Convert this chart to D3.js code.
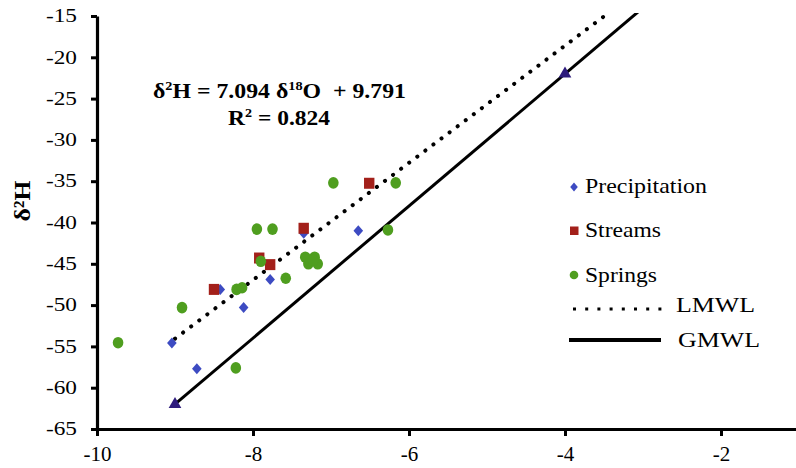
<!DOCTYPE html>
<html>
<head>
<meta charset="utf-8">
<script src="https://cdn.jsdelivr.net/npm/d3@7/dist/d3.min.js"></script>
<style>
  html, body { margin: 0; padding: 0; background: #fff; }
  svg { display: block; font-family: "Liberation Serif", "Times New Roman", serif; }
</style>
</head>
<body>
<svg id="chart" width="796" height="468"></svg>
<script>
// Isotope samples: δ18O (x) and δ2H (y), per-mil
const precipO = [-9.04, -8.72, -8.12, -7.78, -6.65, -8.42, -7.35];
const precipH = [-54.6, -57.7, -50.3, -46.9, -41.0, -48.1, -41.3];

const streamsO = [-8.50, -7.92, -7.78, -7.35, -6.51];
const streamsH = [-48.1, -44.3, -45.1, -40.7, -35.25];

const springsO = [-9.73, -8.91, -8.22, -8.21, -8.14, -7.95, -7.75, -7.90, -7.58, -6.97,
                  -7.33, -7.21, -7.29, -7.17, -7.23, -6.17, -6.27];
const springsH = [-54.55, -50.3, -57.6, -48.1, -47.9, -40.8, -40.8, -44.7, -46.75, -35.2,
                  -44.2, -44.2, -45.0, -45.0, -44.6, -35.2, -40.9];

// Meteoric water lines: δ2H = slope * δ18O + intercept
const lmwl = { slope: 7.094, intercept: 9.791, from: -9, to: -3.4 };
const gmwl = { slope: 8, intercept: 10, from: -9, to: -3 };
const gmwlMarkersO = [-9, -4];

const xTicks = [-10, -8, -6, -4, -2];
const xTickLabels = ["-10", "-8", "-6", "-4", "-2"];
const yTicks = [-15, -20, -25, -30, -35, -40, -45, -50, -55, -60, -65];
const yTickLabels = ["-15", "-20", "-25", "-30", "-35", "-40", "-45", "-50", "-55", "-60", "-65"];

const legendItems = ["Precipitation", "Streams", "Springs", "LMWL", "GMWL"];

const colors = { precip: "#3d4bc2", streams: "#a3201a", springs: "#4f9e1f", tri: "#2d1b7c" };

const svg = d3.select("#chart");
svg.append("rect").attr("width", 796).attr("height", 468).attr("fill", "#fff");

const x = d3.scaleLinear().domain([-10, 0]).range([97, 877]);
const y = d3.scaleLinear().domain([-65, -15]).range([429, 16]);

// Clip for the fitted lines
svg.append("clipPath").attr("id", "plotClip")
  .append("rect").attr("x", 97).attr("y", 13).attr("width", 700).attr("height", 416);

const plot = svg.append("g");

// Lines
const lineGen = d3.line().x(d => x(d[0])).y(d => y(d[1]));
const linePts = l => [[l.from, l.slope * l.from + l.intercept], [l.to, l.slope * l.to + l.intercept]];

plot.append("path")
  .attr("clip-path", "url(#plotClip)")
  .attr("d", lineGen(linePts(lmwl)))
  .attr("fill", "none").attr("stroke", "#000")
  .attr("stroke-width", 4).attr("stroke-linecap", "round")
  .attr("stroke-dasharray", "0.1 10");

plot.append("path")
  .attr("clip-path", "url(#plotClip)")
  .attr("d", lineGen(linePts(gmwl)))
  .attr("fill", "none").attr("stroke", "#000")
  .attr("stroke-width", 3);

// GMWL markers
plot.selectAll(".tri").data(gmwlMarkersO).join("path")
  .attr("d", d3.symbol(d3.symbolTriangle, 70))
  .attr("transform", d => `translate(${x(d)},${y(gmwl.slope * d + gmwl.intercept)})`)
  .attr("fill", colors.tri);

// Precipitation (diamonds)
const diamond = "M0,-5.5L4.8,0L0,5.5L-4.8,0Z";
plot.selectAll(".prec").data(d3.zip(precipO, precipH)).join("path")
  .attr("d", diamond)
  .attr("transform", d => `translate(${x(d[0])},${y(d[1])})`)
  .attr("fill", colors.precip);

// Streams (squares)
plot.selectAll(".strm").data(d3.zip(streamsO, streamsH)).join("rect")
  .attr("x", d => x(d[0]) - 5.2).attr("y", d => y(d[1]) - 5.5)
  .attr("width", 10.4).attr("height", 11)
  .attr("fill", colors.streams);

// Springs (dots)
plot.selectAll(".sprg").data(d3.zip(springsO, springsH)).join("ellipse")
  .attr("cx", d => x(d[0])).attr("cy", d => y(d[1]))
  .attr("rx", 5.3).attr("ry", 5.8)
  .attr("fill", colors.springs);

// Axes
const yAxis = d3.axisLeft(y).tickValues(yTicks)
  .tickFormat((d, i) => yTickLabels[i]).tickSize(6).tickSizeOuter(0).tickPadding(14);
const yg = svg.append("g").attr("transform", "translate(97,0)").call(yAxis);
yg.select(".domain").attr("stroke-width", 3.2);
yg.selectAll(".tick line").attr("stroke-width", 3);
yg.selectAll(".tick text")
  .attr("font-family", "Liberation Serif").attr("font-size", 18).attr("fill", "#000")
  .attr("textLength", 31).attr("lengthAdjust", "spacingAndGlyphs");

const xAxis = d3.axisBottom(x).tickValues(xTicks)
  .tickFormat((d, i) => xTickLabels[i]).tickSize(7).tickSizeOuter(0).tickPadding(10);
const xg = svg.append("g").attr("transform", "translate(0,429)").call(xAxis);
xg.select(".domain").attr("stroke-width", 3.2);
xg.selectAll(".tick line").attr("stroke-width", 3);
xg.selectAll(".tick text")
  .attr("font-family", "Liberation Serif").attr("font-size", 21).attr("fill", "#000");

// Y axis title
svg.append("text")
  .attr("transform", "translate(30,201) rotate(-90)")
  .attr("text-anchor", "middle")
  .attr("font-weight", "bold").attr("font-size", 23)
  .attr("textLength", 41).attr("lengthAdjust", "spacingAndGlyphs")
  .text("δ²H");

// Regression equation
const eq = svg.append("text")
  .attr("x", 153).attr("y", 98)
  .attr("font-weight", "bold").attr("font-size", 20)
  .attr("textLength", 253).attr("lengthAdjust", "spacingAndGlyphs")
  .style("white-space", "pre");
eq.append("tspan").text("δ");
eq.append("tspan").attr("font-size", 12).attr("dy", -8).text("2");
eq.append("tspan").attr("dy", 8).text("H = 7.094 δ");
eq.append("tspan").attr("font-size", 12).attr("dy", -8).text("18");
eq.append("tspan").attr("dy", 8).text("O  + 9.791");

const r2 = svg.append("text")
  .attr("x", 228).attr("y", 125)
  .attr("font-weight", "bold").attr("font-size", 20)
  .attr("textLength", 102).attr("lengthAdjust", "spacingAndGlyphs");
r2.append("tspan").text("R");
r2.append("tspan").attr("font-size", 12).attr("dy", -8).text("2");
r2.append("tspan").attr("dy", 8).text(" = 0.824");

// Legend
const lg = svg.append("g");
lg.append("path").attr("d", "M0,-4.5L3.8,0L0,4.5L-3.8,0Z")
  .attr("transform", "translate(574,187)").attr("fill", colors.precip);
lg.append("rect").attr("x", 570).attr("y", 226.5).attr("width", 8.5).attr("height", 8.5)
  .attr("fill", colors.streams);
lg.append("circle").attr("cx", 574).attr("cy", 275).attr("r", 4.3).attr("fill", colors.springs);
lg.append("line").attr("x1", 573).attr("x2", 662).attr("y1", 309).attr("y2", 309)
  .attr("stroke", "#000").attr("stroke-width", 3).attr("stroke-dasharray", "3 9.2");
lg.append("line").attr("x1", 569).attr("x2", 661).attr("y1", 340).attr("y2", 340)
  .attr("stroke", "#000").attr("stroke-width", 4);

const legendText = [
  { x: 585, y: 193, w: 122 },
  { x: 585, y: 237, w: 76 },
  { x: 585, y: 282, w: 72 },
  { x: 676, y: 312, w: 79 },
  { x: 678, y: 347, w: 82 }
];
lg.selectAll(".lt").data(legendItems).join("text")
  .attr("x", (d, i) => legendText[i].x).attr("y", (d, i) => legendText[i].y)
  .attr("font-size", 21).attr("fill", "#000")
  .attr("textLength", (d, i) => legendText[i].w).attr("lengthAdjust", "spacingAndGlyphs")
  .text(d => d);
</script>
</body>
</html>
